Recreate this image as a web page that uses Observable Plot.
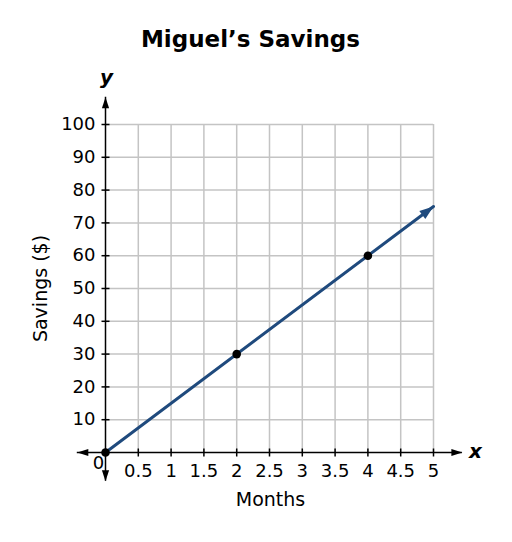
<!DOCTYPE html>
<html>
<head>
<meta charset="utf-8">
<script src="https://cdn.jsdelivr.net/npm/d3@7"></script>
<script src="https://cdn.jsdelivr.net/npm/@observablehq/plot@0.6"></script>
<style>
  html, body { margin: 0; padding: 0; background: #fff; }
  #chart svg { display: block; }
</style>
</head>
<body>
<div id="chart"></div>
<script>
// ---- data ----
const title = "Miguel’s Savings";
const xLabel = "Months";
const yLabel = "Savings ($)";
const months = [0, 2, 4];
const savings = [0, 30, 60];
const lineMonths = [0, 5];
const lineSavings = [0, 75];
const xTicks = [0.5, 1, 1.5, 2, 2.5, 3, 3.5, 4, 4.5, 5];
const xTickLabels = ["0.5", "1", "1.5", "2", "2.5", "3", "3.5", "4", "4.5", "5"];
const yTicks = [10, 20, 30, 40, 50, 60, 70, 80, 90, 100];
const axisXExtent = [-0.43, 5.44];
const axisYExtent = [-8.75, 108.3];

// ---- layout ----
const W = 512, H = 542;
const mL = 105, mR = 79, mT = 124, mB = 90;
const font = "DejaVu Sans, Verdana, sans-serif";

const points = months.map((m, i) => ({m, s: savings[i]}));
const lineData = lineMonths.map((m, i) => ({m, s: lineSavings[i]}));

// scales to compute arrow direction of the data line
const sx = Plot.scale({x: {domain: [0, 5], range: [mL, W - mR]}});
const sy = Plot.scale({y: {domain: [0, 100], range: [H - mB, mT]}});
const a = lineData[0], b = lineData[lineData.length - 1];
const ang = Math.atan2(sy.apply(b.s) - sy.apply(a.s), sx.apply(b.m) - sx.apply(a.m)) * 180 / Math.PI;

// custom symbols: arrowhead with tip at origin pointing up; small tick segment
const head = (len, half) => ({
  draw(ctx) { ctx.moveTo(0, 0); ctx.lineTo(half, len); ctx.lineTo(-half, len); ctx.closePath(); }
});
const axisHead = head(11, 3.6);
const lineHead = head(14, 5);
const vTick = {draw(ctx) { ctx.moveTo(0, -4); ctx.lineTo(0, 4); }};
const hTick = {draw(ctx) { ctx.moveTo(-4, 0); ctx.lineTo(4, 0); }};

const axisHeads = [
  {x: axisXExtent[1], y: 0, r: 90},
  {x: axisXExtent[0], y: 0, r: -90},
  {x: 0, y: axisYExtent[1], r: 0},
  {x: 0, y: axisYExtent[0], r: 180}
];

const plot = Plot.plot({
  width: W,
  height: H,
  marginLeft: mL, marginRight: mR, marginTop: mT, marginBottom: mB,
  style: {fontFamily: font, background: "#fff", color: "#000"},
  x: {domain: [0, 5], axis: null},
  y: {domain: [0, 100], axis: null},
  marks: [
    // grid
    Plot.ruleX(xTicks, {x: d => d, stroke: "#c4c4c4", strokeWidth: 1.5}),
    Plot.ruleY(yTicks, {y: d => d, stroke: "#c4c4c4", strokeWidth: 1.5}),
    // axis lines
    Plot.ruleY([0], {y: d => d, x1: axisXExtent[0], x2: axisXExtent[1], stroke: "#000", strokeWidth: 1.5}),
    Plot.ruleX([0], {x: d => d, y1: axisYExtent[0], y2: axisYExtent[1], stroke: "#000", strokeWidth: 1.5}),
    // axis arrowheads
    Plot.dot(axisHeads, {x: "x", y: "y", rotate: "r", symbol: axisHead, fill: "#000", stroke: "none"}),
    // tick marks
    Plot.dot(xTicks, {x: d => d, y: () => 0, symbol: vTick, fill: "none", stroke: "#000", strokeWidth: 1.5}),
    Plot.dot(yTicks, {x: () => 0, y: d => d, symbol: hTick, fill: "none", stroke: "#000", strokeWidth: 1.5}),
    // tick labels
    Plot.axisX(xTicks, {tickSize: 0, tickPadding: 12, fontSize: 18, fill: "#000",
      tickFormat: d => xTickLabels[xTicks.indexOf(d)], label: null}),
    Plot.axisY(yTicks, {tickSize: 0, tickPadding: 10, fontSize: 18, fill: "#000", label: null}),
    Plot.text([0], {x: d => d, y: () => 0, text: d => String(d), dx: -7, dy: 11, fontSize: 18, fill: "#000"}),
    // data line with arrow
    Plot.line(lineData, {x: "m", y: "s", stroke: "#1f4a7d", strokeWidth: 3}),
    Plot.dot([b], {x: "m", y: "s", rotate: () => ang + 90, symbol: lineHead, fill: "#1f4a7d", stroke: "none"}),
    // points
    Plot.dot(points, {x: "m", y: "s", r: 4.3, fill: "#000", stroke: "none"}),
    // labels
    Plot.text([title], {text: d => d, frameAnchor: "top", textAnchor: "middle", dx: -19, dy: -78, lineAnchor: "bottom",
      fontSize: 23, fontWeight: "bold", fill: "#000"}),
    Plot.text([xLabel], {text: d => d, frameAnchor: "bottom", textAnchor: "middle", dx: 1, dy: 53, lineAnchor: "bottom",
      fontSize: 19, fill: "#000"}),
    Plot.text([yLabel], {text: d => d, frameAnchor: "left", textAnchor: "middle", dx: -65, rotate: -90, lineAnchor: "middle",
      fontSize: 19, fill: "#000"}),
    Plot.text(["y"], {text: d => d, frameAnchor: "top-left", textAnchor: "middle", dx: 1, dy: -47, lineAnchor: "middle",
      fontSize: 20, fontWeight: "bold", fontStyle: "italic", fill: "#000"}),
    Plot.text(["x"], {text: d => d, frameAnchor: "bottom-right", textAnchor: "middle", dx: 42, dy: -1, lineAnchor: "middle",
      fontSize: 20, fontWeight: "bold", fontStyle: "italic", fill: "#000"})
  ]
});
document.getElementById("chart").append(plot);
</script>
</body>
</html>
